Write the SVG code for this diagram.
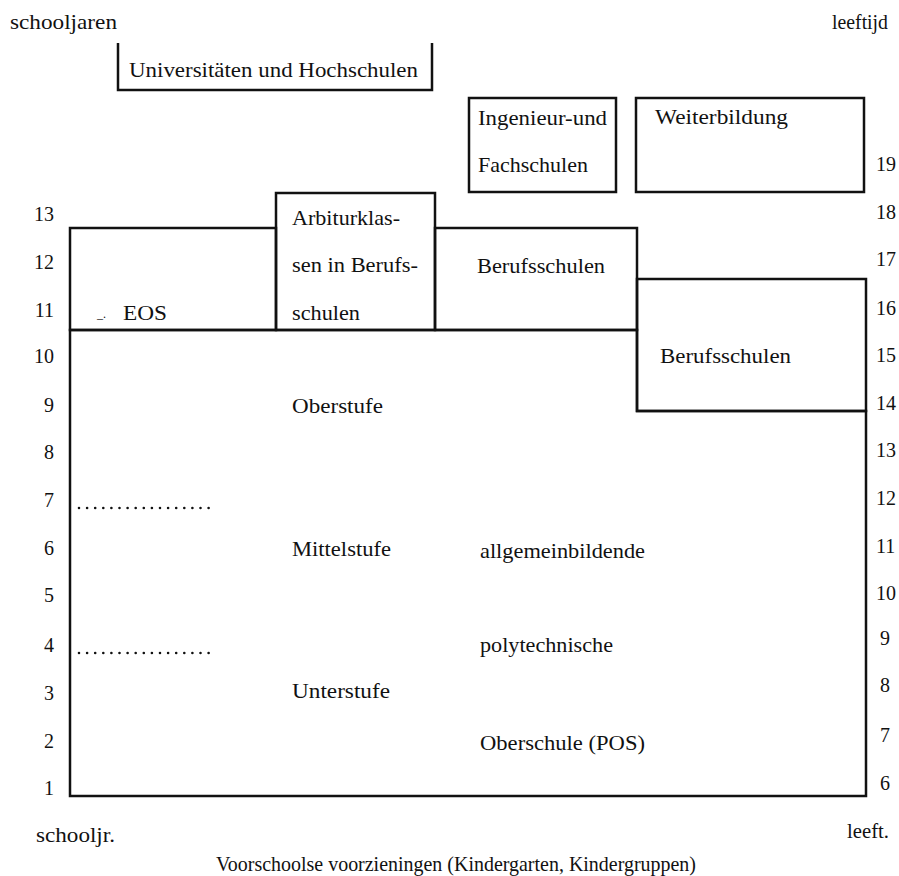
<svg xmlns="http://www.w3.org/2000/svg" width="899" height="876" viewBox="0 0 899 876" font-family="'Liberation Serif', 'Times New Roman', 'DejaVu Serif', serif">
<style>
text{font-family:'Liberation Serif','Times New Roman','DejaVu Serif',serif;fill:#111;font-size:22px}
.num{font-size:20px}
.numL{font-size:20px;text-anchor:end}
.box{fill:none;stroke:#111;stroke-width:2.5;stroke-linejoin:miter}
.dots{fill:none;stroke:#111;stroke-width:2.6;stroke-linecap:round;stroke-dasharray:0 8.1}
.mark{font-size:12px}
</style>
<rect width="899" height="876" fill="#fff"/>
<g id="axis-labels">
<text x="10" y="29" textLength="107" lengthAdjust="spacingAndGlyphs">schooljaren</text>
<text x="832" y="29" textLength="56" lengthAdjust="spacingAndGlyphs">leeftijd</text>
<text x="36" y="842" textLength="79" lengthAdjust="spacingAndGlyphs">schooljr.</text>
<text x="847" y="838" textLength="42" lengthAdjust="spacingAndGlyphs">leeft.</text>
<text x="216" y="871" textLength="480" lengthAdjust="spacingAndGlyphs">Voorschoolse voorzieningen (Kindergarten, Kindergruppen)</text>
</g>
<g id="years-left">
<text class="numL" x="54" y="221">13</text>
<text class="numL" x="54" y="269">12</text>
<text class="numL" x="54" y="317">11</text>
<text class="numL" x="54" y="363">10</text>
<text class="numL" x="54" y="412">9</text>
<text class="numL" x="54" y="459">8</text>
<text class="numL" x="54" y="507">7</text>
<text class="numL" x="54" y="555">6</text>
<text class="numL" x="54" y="602">5</text>
<text class="numL" x="54" y="652">4</text>
<text class="numL" x="54" y="700">3</text>
<text class="numL" x="54" y="748">2</text>
<text class="numL" x="54" y="795">1</text>
</g>
<g id="ages-right">
<text class="num" x="876" y="171">19</text>
<text class="num" x="876" y="219">18</text>
<text class="num" x="876" y="266">17</text>
<text class="num" x="876" y="315">16</text>
<text class="num" x="876" y="362">15</text>
<text class="num" x="876" y="410">14</text>
<text class="num" x="876" y="457">13</text>
<text class="num" x="876" y="505">12</text>
<text class="num" x="876" y="553">11</text>
<text class="num" x="876" y="600">10</text>
<text class="num" x="880" y="645">9</text>
<text class="num" x="880" y="692">8</text>
<text class="num" x="880" y="742">7</text>
<text class="num" x="880" y="790">6</text>
</g>
<g id="universitaeten">
<path class="box" d="M118,43 V90 H432 V43"/>
<text x="129" y="77" textLength="289" lengthAdjust="spacingAndGlyphs">Universitäten und Hochschulen</text>
</g>
<g id="ingenieur">
<rect class="box" x="469" y="98" width="147" height="94"/>
<text x="478" y="125" textLength="129" lengthAdjust="spacingAndGlyphs">Ingenieur-und</text>
<text x="478" y="172" textLength="110" lengthAdjust="spacingAndGlyphs">Fachschulen</text>
</g>
<g id="weiterbildung">
<rect class="box" x="636" y="98" width="228" height="94"/>
<text x="655" y="124" textLength="133" lengthAdjust="spacingAndGlyphs">Weiterbildung</text>
</g>
<g id="eos">
<rect class="box" x="70" y="228" width="206" height="102"/>
<text class="mark" x="97" y="318">_.</text>
<text x="123" y="320" textLength="44" lengthAdjust="spacingAndGlyphs">EOS</text>
</g>
<g id="abiturklassen">
<rect class="box" x="276" y="193" width="159" height="137"/>
<text x="292" y="225" textLength="108" lengthAdjust="spacingAndGlyphs">Arbiturklas-</text>
<text x="292" y="272" textLength="126" lengthAdjust="spacingAndGlyphs">sen in Berufs-</text>
<text x="292" y="320" textLength="68" lengthAdjust="spacingAndGlyphs">schulen</text>
</g>
<g id="berufsschulen-1">
<rect class="box" x="435" y="228" width="202" height="102"/>
<text x="477" y="273" textLength="128" lengthAdjust="spacingAndGlyphs">Berufsschulen</text>
</g>
<g id="berufsschulen-2">
<rect class="box" x="637" y="279" width="229" height="132"/>
<text x="660" y="363" textLength="131" lengthAdjust="spacingAndGlyphs">Berufsschulen</text>
</g>
<g id="pos">
<path class="box" d="M70,330 H637 V411 H866 V796 H70 Z"/>
<path class="dots" d="M79,508 H211"/>
<path class="dots" d="M79,653 H211"/>
<text x="292" y="413" textLength="91" lengthAdjust="spacingAndGlyphs">Oberstufe</text>
<text x="292" y="556" textLength="99" lengthAdjust="spacingAndGlyphs">Mittelstufe</text>
<text x="292" y="698" textLength="98" lengthAdjust="spacingAndGlyphs">Unterstufe</text>
<text x="480" y="558" textLength="165" lengthAdjust="spacingAndGlyphs">allgemeinbildende</text>
<text x="480" y="652" textLength="133" lengthAdjust="spacingAndGlyphs">polytechnische</text>
<text x="480" y="750" textLength="165" lengthAdjust="spacingAndGlyphs">Oberschule (POS)</text>
</g>
<g id="connectors"/>
</svg>
